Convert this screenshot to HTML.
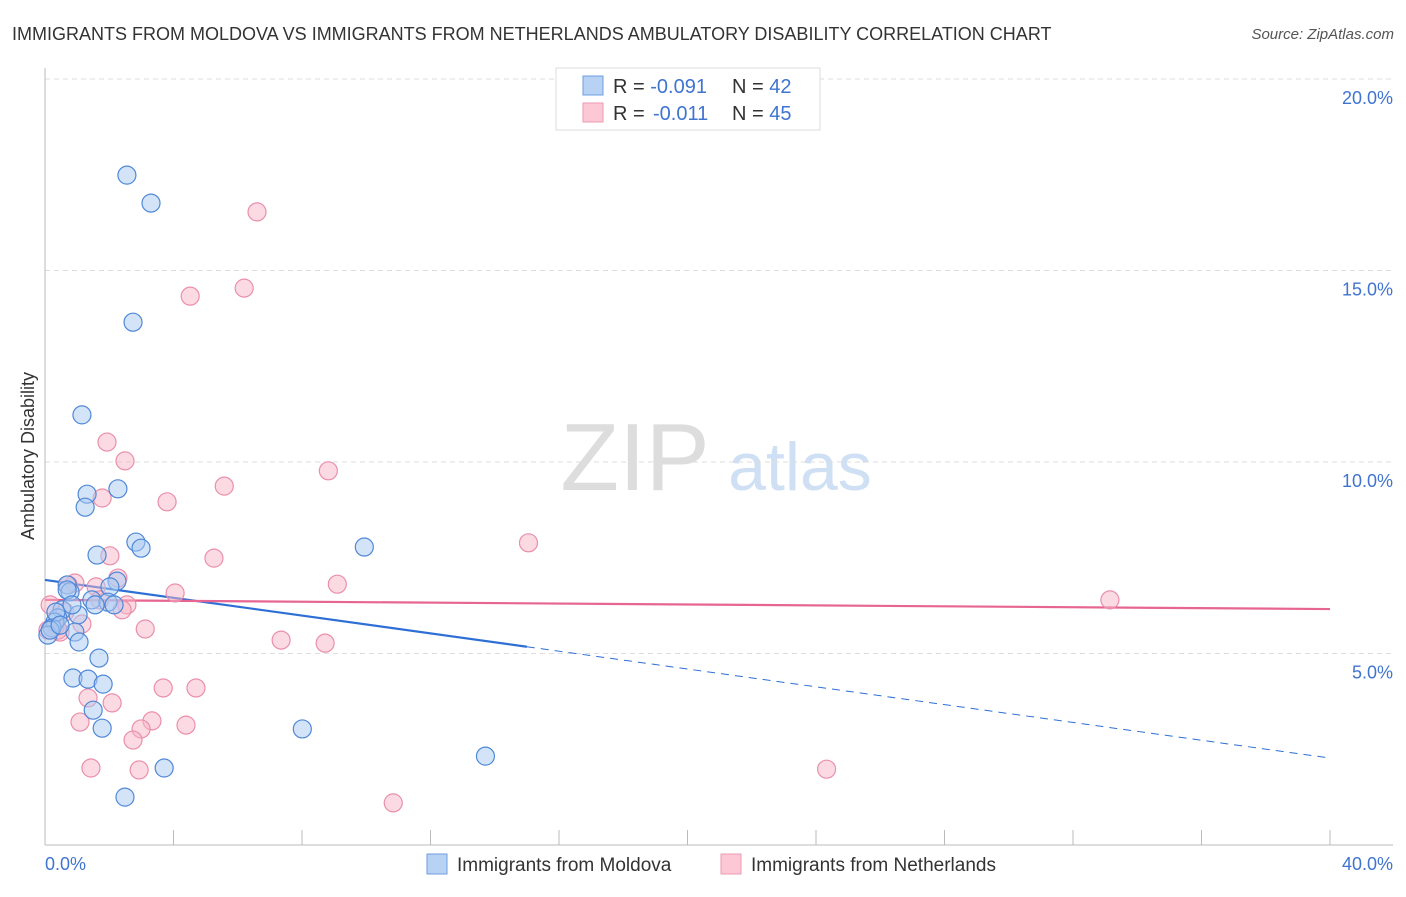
<!DOCTYPE html>
<html><head><meta charset="utf-8"><style>
body{margin:0;background:#fff;font-family:"Liberation Sans",sans-serif;}
svg text{font-family:"Liberation Sans",sans-serif;}
</style></head><body>
<svg id="chart" width="1406" height="892">
<text x="12" y="40" font-size="18" fill="#333">IMMIGRANTS FROM MOLDOVA VS IMMIGRANTS FROM NETHERLANDS AMBULATORY DISABILITY CORRELATION CHART</text>
<text x="1394" y="39" font-size="15" fill="#555" font-style="italic" text-anchor="end">Source: ZipAtlas.com</text>
<text x="635" y="490" font-size="96" fill="#ddd" font-family="Liberation Serif" text-anchor="middle">ZIP</text>
<text x="800" y="490" font-size="68" fill="#d0e0f4" text-anchor="middle">atlas</text>
<text transform="translate(34,456) rotate(-90)" font-size="18" fill="#333" text-anchor="middle">Ambulatory Disability</text>
<g id="grid"></g><g id="axes"></g><g id="trend"></g><g id="pts"></g>
<g>
<rect x="556" y="68" width="264" height="62" fill="#fff" stroke="#ddd"/>
<rect x="583" y="76" width="20" height="19" fill="#b8d2f4" stroke="#6d9ee0"/>
<rect x="583" y="103" width="20" height="19" fill="#fcc8d6" stroke="#ee9ab2"/>
<text x="613" y="93" font-size="20" fill="#333">R = <tspan fill="#3f74d0">-0.091</tspan><tspan x="732">N = </tspan><tspan fill="#3f74d0">42</tspan></text>
<text x="613" y="120" font-size="20" fill="#333">R = <tspan x="653" fill="#3f74d0">-0.011</tspan><tspan x="732">N = </tspan><tspan fill="#3f74d0">45</tspan></text>
</g>
<g>
<rect x="427" y="854" width="20" height="20" fill="#b8d2f4" stroke="#6d9ee0"/>
<text x="457" y="871" font-size="19" fill="#333">Immigrants from Moldova</text>
<rect x="721" y="854" width="20" height="20" fill="#fcc8d6" stroke="#ee9ab2"/>
<text x="751" y="871" font-size="19" fill="#333">Immigrants from Netherlands</text>
</g>
</svg>
<script>
const blueX=[2.55,3.30,2.74,1.15,1.31,2.27,1.25,2.83,2.99,1.62,9.94,0.69,2.24,2.02,0.78,1.46,1.96,2.15,0.53,0.40,1.03,0.31,0.22,0.09,0.93,1.06,1.68,0.87,1.34,1.81,1.50,1.78,8.01,13.71,3.71,2.49,0.69,0.34,0.16,0.47,1.56,0.84];
const blueY=[17.49,16.76,13.65,11.23,9.16,9.30,8.82,7.91,7.75,7.57,7.78,6.79,6.89,6.74,6.61,6.40,6.34,6.27,6.14,5.93,6.01,5.82,5.67,5.48,5.56,5.30,4.88,4.36,4.33,4.20,3.52,3.05,3.03,2.32,2.01,1.25,6.66,6.08,5.61,5.74,6.27,6.27];
const pinkX=[6.60,4.52,6.20,1.93,2.49,8.82,5.58,3.80,1.78,15.05,2.02,5.26,2.27,9.10,4.05,1.59,0.93,33.15,2.55,2.40,0.62,0.16,3.12,1.15,0.47,0.31,7.35,8.72,3.68,4.70,1.34,2.09,1.09,3.33,4.39,2.99,2.74,1.43,2.93,24.33,10.84,0.40,0.72,0.09,1.71];
const pinkY=[16.53,14.33,14.54,10.52,10.03,9.77,9.37,8.96,9.06,7.89,7.55,7.49,6.97,6.81,6.58,6.74,6.84,6.40,6.27,6.14,6.08,6.27,5.64,5.77,5.56,5.69,5.35,5.27,4.10,4.10,3.84,3.71,3.21,3.24,3.13,3.03,2.74,2.01,1.96,1.98,1.10,5.61,6.79,5.61,6.40];
const yTicks=[5,10,15,20];
const yTickLabels=["5.0%","10.0%","15.0%","20.0%"];
const xTickLabels=["0.0%","40.0%"];
const blueTrend=[6.92,2.27];
const pinkTrend=[6.40,6.16];
const NS="http://www.w3.org/2000/svg";
const X=v=>45+v*32.125, Y=v=>845-v*38.3;
function mk(p,t,a){const e=document.createElementNS(NS,t);for(const k in a)e.setAttribute(k,a[k]);p.appendChild(e);return e;}
const grid=document.getElementById('grid'),axes=document.getElementById('axes'),trend=document.getElementById('trend'),pts=document.getElementById('pts');
yTicks.forEach((t,i)=>{
 const l=mk(grid,'line',{x1:45,x2:1393,y1:Y(t),y2:Y(t),stroke:'#ddd','stroke-dasharray':'5,4'});
 
 
 const tx=mk(axes,'text',{x:1393,y:Y(t)+25,'font-size':18,fill:'#3f74d0','text-anchor':'end'});
 tx.textContent=yTickLabels[i];
 
 
});
const ya=mk(axes,'line',{x1:45,x2:45,y1:68,y2:845,stroke:'#bbb'});


const xa=mk(axes,'line',{x1:45,x2:1393,y1:845,y2:845,stroke:'#bbb'});


for(let i=0;i<=10;i++){const t=mk(axes,'line',{x1:X(i*4),x2:X(i*4),y1:830,y2:845,stroke:'#bbb'});
 
 }
[[0,'start',45],[40,'end',1393]].forEach((d,i)=>{const t=mk(axes,'text',{x:d[2],y:870,'font-size':18,fill:'#3f74d0','text-anchor':d[1]});
 t.textContent=xTickLabels[i];
 
 });
function tl(v,x1,x2,col,dash,name){const a=v[0]+(v[1]-v[0])*x1/40,b=v[0]+(v[1]-v[0])*x2/40;
 const l=mk(trend,'line',{x1:X(x1),x2:X(x2),y1:Y(a),y2:Y(b),stroke:col,'stroke-width':dash?1:2.2});
 if(dash)l.setAttribute('stroke-dasharray','8,6');
 
 }
function dots(xs,ys,fill,stroke,name){xs.forEach((x,i)=>{const c=mk(pts,'circle',{cx:X(x),cy:Y(ys[i]),r:9,fill:fill,'fill-opacity':0.5,stroke:stroke,'stroke-width':1.2});
 
 });}
dots(pinkX,pinkY,'#f7b6c8','#ea8fab','netherlands-point');
dots(blueX,blueY,'#a9c9f2','#4f88d8','moldova-point');
tl(blueTrend,0,15,'#2e6fd6',false,'moldova-trend');
tl(blueTrend,15,40,'#2e6fd6',true,'moldova-trend-extension');
tl(pinkTrend,0,40,'#e66592',false,'netherlands-trend');
</script>
</body></html>
